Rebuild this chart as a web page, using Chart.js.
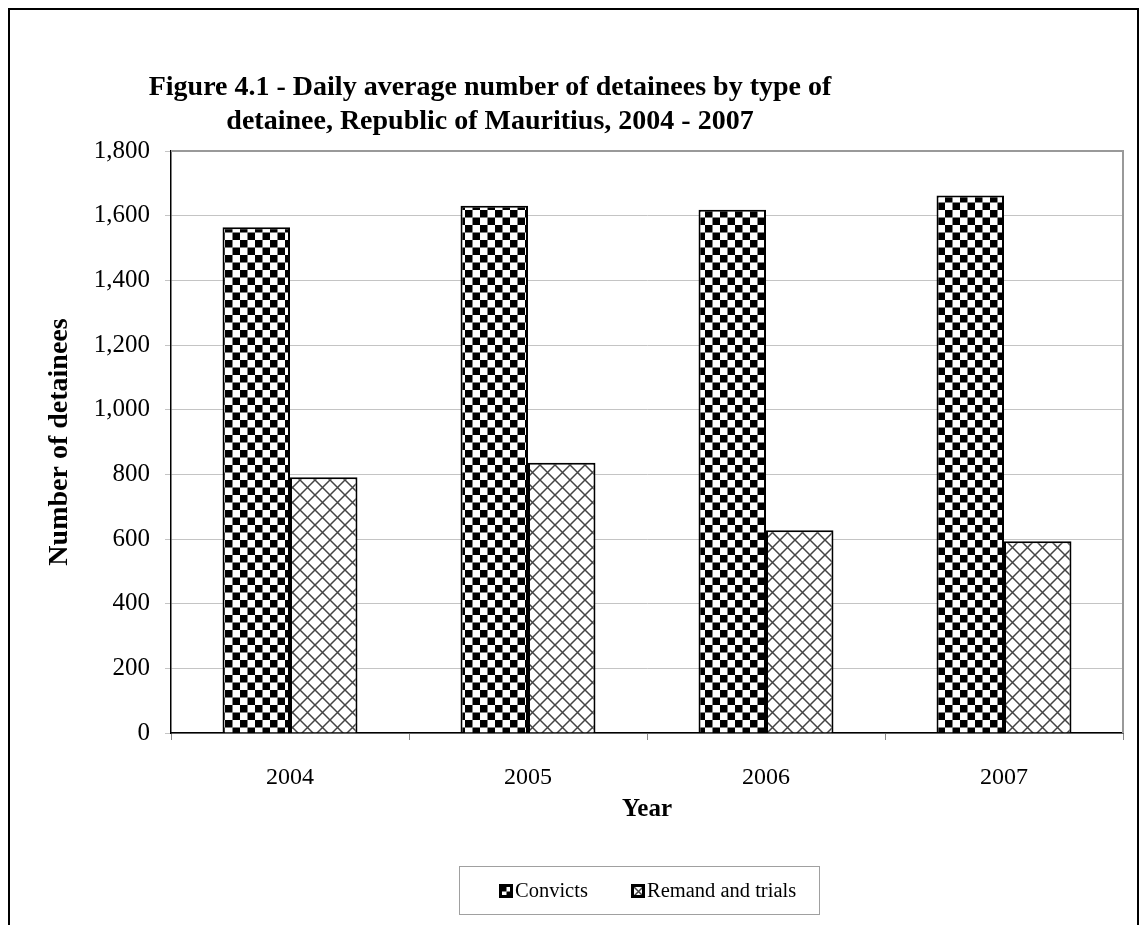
<!DOCTYPE html>
<html>
<head>
<meta charset="utf-8">
<script src="https://cdn.jsdelivr.net/npm/chart.js@4.4.1/dist/chart.umd.min.js"></script>
<style>
  body { margin: 0; background: #fff; }
  #wrap { position: relative; width: 1146px; height: 925px; overflow: hidden; }
  #frame { position: absolute; left: 8px; top: 8px; width: 1131px; height: 940px; border: 2px solid #000; box-sizing: border-box; }
  #title { position: absolute; left: 40px; width: 900px; top: 69px; text-align: center;
           font: bold 28px "Liberation Serif", "Times New Roman", serif; line-height: 34px; color: #000; }
  #chart { position: absolute; left: 0; top: 0; }
  #legend { position: absolute; left: 459px; top: 866px; width: 361px; height: 49px; box-sizing: border-box;
            border: 1px solid #a0a0a0; font: 20.5px "Liberation Serif", "Times New Roman", serif; color: #000; }
  #legend .item { position: absolute; top: 0; height: 47px; display: flex; align-items: center; }
  #legend canvas { margin-right: 2px; }
</style>
</head>
<body>
<div id="wrap">
  <div id="frame"></div>
  <canvas id="chart" width="1146" height="925"></canvas>
  <div id="title">Figure 4.1 - Daily average number of detainees by type of<br>detainee, Republic of Mauritius, 2004 - 2007</div>
  <div id="legend"></div>
</div>
<script>
const years = ["2004", "2005", "2006", "2007"];
const seriesNames = ["Convicts", "Remand and trials"];
const convicts = [1564, 1631, 1618, 1662];
const remand = [791, 836, 627, 593];
const yTicks = [0, 200, 400, 600, 800, 1000, 1200, 1400, 1600, 1800];

// checkerboard fill for convicts
function checkerPattern() {
    const c = document.createElement("canvas");
    c.width = 15; c.height = 15;
    const g = c.getContext("2d");
    g.fillStyle = "#fff";
    g.fillRect(0, 0, 15, 15);
    g.fillStyle = "#000";
    g.fillRect(0, 0, 7.5, 7.5);
    g.fillRect(7.5, 7.5, 7.5, 7.5);
    return g.createPattern(c, "repeat");
}

// diagonal crosshatch for remand
function hatchPattern() {
    const c = document.createElement("canvas");
    c.width = 15; c.height = 15;
    const g = c.getContext("2d");
    g.fillStyle = "#fff";
    g.fillRect(0, 0, 15, 15);
    g.strokeStyle = "#444";
    g.lineWidth = 1.5;
    g.beginPath();
    g.moveTo(-1, -1); g.lineTo(16, 16);
    g.moveTo(16, -1); g.lineTo(-1, 16);
    g.stroke();
    return g.createPattern(c, "repeat");
}

const fills = [checkerPattern(), hatchPattern()];

// gray frame on top and right of the plot area
const plotFrame = {
    id: "plotFrame",
    beforeDatasetsDraw(chart) {
        const a = chart.chartArea;
        const ctx = chart.ctx;
        ctx.save();
        ctx.strokeStyle = "#999";
        ctx.lineWidth = 2;
        ctx.beginPath();
        ctx.moveTo(a.left, a.top);
        ctx.lineTo(a.right, a.top);
        ctx.lineTo(a.right, a.bottom);
        ctx.stroke();
        ctx.restore();
    }
};

const serif = "'Liberation Serif', 'Times New Roman', serif";

new Chart(document.getElementById("chart"), {
    type: "bar",
    data: {
        labels: years,
        datasets: [
            { label: seriesNames[0], data: convicts, backgroundColor: fills[0], borderColor: "#000", borderWidth: 2 },
            { label: seriesNames[1], data: remand, backgroundColor: fills[1], borderColor: "#000", borderWidth: 2 }
        ]
    },
    options: {
        responsive: false,
        animation: false,
        layout: { padding: { left: 43, top: 151, right: 23, bottom: 100 } },
        datasets: { bar: { categoryPercentage: 0.567, barPercentage: 1 } },
        plugins: { legend: { display: false }, tooltip: { enabled: false } },
        scales: {
            x: {
                afterFit(s) { s.height = 92; },
                grid: { offset: true, drawOnChartArea: false, tickLength: 7, color: "#888" },
                border: { color: "#000", width: 1.5 },
                ticks: { color: "#000", padding: 23, font: { family: serif, size: 24 } },
                title: { display: true, text: "Year", color: "#000", padding: 0,
                         font: { family: serif, size: 25, weight: "bold" } }
            },
            y: {
                min: 0, max: 1800,
                afterFit(s) { s.width = 128; },
                afterBuildTicks(s) { s.ticks = yTicks.map(v => ({ value: v })); },
                grid: { color: "#c4c4c4", lineWidth: 1, tickLength: 6 },
                border: { color: "#000", width: 1.5 },
                ticks: { color: "#000", padding: 15, font: { family: serif, size: 25 },
                         callback: v => v.toLocaleString("en-US") },
                title: { display: true, text: "Number of detainees", color: "#000", padding: 0,
                         font: { family: serif, size: 28, weight: "bold" } }
            }
        }
    },
    plugins: [plotFrame]
});

// legend below the chart
const legend = document.getElementById("legend");
const legendX = [39, 171];
seriesNames.forEach((name, i) => {
    const item = document.createElement("div");
    item.className = "item";
    item.style.left = legendX[i] + "px";
    const box = document.createElement("canvas");
    box.width = 14; box.height = 14;
    const g = box.getContext("2d");
    g.fillStyle = fills[i];
    g.fillRect(0, 0, 14, 14);
    g.strokeStyle = "#000";
    g.lineWidth = 3;
    g.strokeRect(1.5, 1.5, 11, 11);
    item.appendChild(box);
    item.appendChild(document.createTextNode(name));
    legend.appendChild(item);
});
</script>
</body>
</html>
